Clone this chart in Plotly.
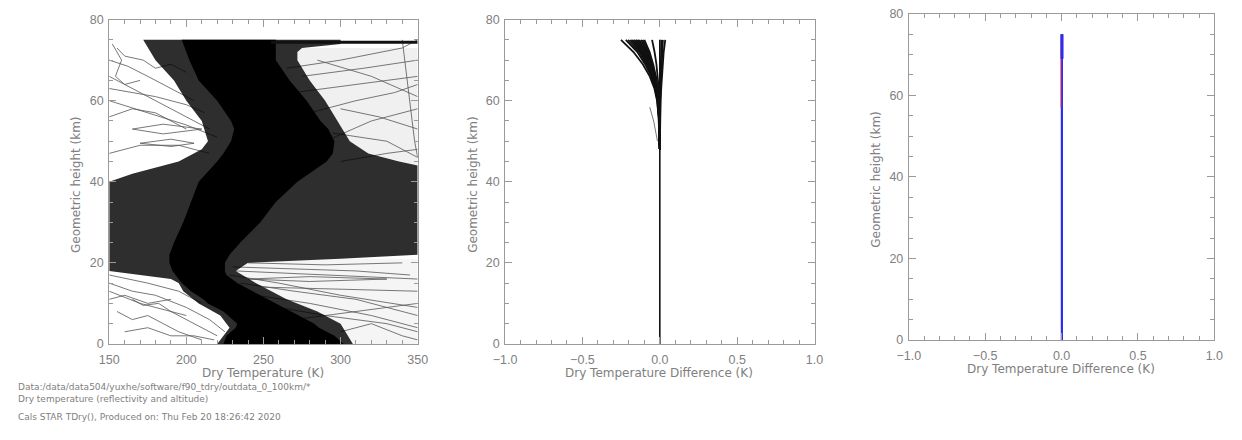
import plotly.graph_objects as go

W, H = 1242, 440

# ---------------- Panel 1 data (Dry temperature profiles) ----------------
# dense core envelope (solid black)
core_h = [0, 2, 4, 5, 7, 8, 10, 11, 13, 14, 15, 17, 18, 20, 22, 25, 30, 35, 40, 45, 47, 50, 53, 55, 60, 65, 70, 75]
core_left = [224, 226, 232, 233, 227, 224, 214, 211, 203, 200, 197, 193, 191, 189, 189, 192, 198, 203, 208, 220, 224, 229, 231, 229, 220, 208, 202, 197]
core_right = [302, 296, 286, 283, 273, 268, 257, 252, 242, 238, 233, 226, 225, 225, 228, 235, 248, 258, 272, 291, 295, 296, 292, 287, 278, 267, 258, 258]

# dense fringe of many overlapping profiles
fringe_left_h = [0, 4, 7, 10, 13, 15, 16, 17, 18, 40, 42, 45, 48, 50, 55, 60, 65, 70, 75]
fringe_left_t = [220, 228, 222, 208, 198, 195, 190, 170, 150, 150, 165, 195, 210, 214, 210, 200, 192, 180, 172]
fringe_right_h = [75, 74, 73, 72, 70, 65, 60, 55, 50, 47, 45, 44, 22, 21, 20, 18, 15, 11, 8, 5, 2, 0]
fringe_right_t = [300, 300, 275, 272, 272, 280, 290, 298, 306, 318, 338, 350, 350, 300, 240, 232, 245, 265, 285, 300, 305, 308]

# medium-density regions
upper_mid_h = [44, 47, 50, 55, 60, 65, 70, 72, 73, 73]
upper_mid_t = [350, 318, 306, 298, 290, 280, 272, 272, 275, 350]
lower_mid_h = [21, 20, 18, 15, 11, 8, 5, 2, 0, 0, 21]
lower_mid_t = [300, 240, 232, 245, 265, 285, 300, 305, 308, 350, 350]

top_band_t = [255, 350]
top_band_h = [74.4, 74.4]

# individual outlying profiles (temperature K, height km)
outliers = [
    ([150, 170, 195, 215], [66, 62, 57, 53]),
    ([150, 175, 200, 220], [60, 57, 54, 51]),
    ([150, 165, 180, 200], [56, 58, 57, 53]),
    ([155, 160, 172, 180, 190, 200], [73, 71, 70, 68, 69, 67]),
    ([165, 185, 210, 185, 165], [53, 54.2, 53, 51.8, 53]),
    ([150, 170, 195, 215], [47, 49, 49, 47]),
    ([152, 158, 154, 160, 170], [74, 70, 66, 64, 65]),
    ([150, 162, 175, 190, 205], [70, 68.5, 66, 63, 60]),
    ([150, 180, 200, 212], [63, 61, 59, 57]),
    ([170, 190, 205, 190, 170], [49.5, 50.5, 49.5, 48.7, 49.5]),
    ([150, 165, 180, 200, 215, 225], [15, 13, 12, 9, 6, 3]),
    ([150, 170, 190, 205, 220], [13, 10, 8, 5, 2]),
    ([155, 165, 175, 185, 195, 210], [8, 6, 7, 5, 3, 1]),
    ([150, 175, 195, 210], [17, 15, 13, 10]),
    ([160, 175, 190, 205, 218], [3, 4, 2, 2, 1]),
    ([165, 172, 182, 190, 200], [11, 9.5, 10, 8, 7]),
    ([150, 160, 175, 190], [11, 12, 10, 11]),
    ([228, 260, 300, 350], [17, 15, 12, 9]),
    ([235, 270, 310, 350], [15, 13, 11, 7]),
    ([245, 280, 320, 350], [12, 10, 7, 4]),
    ([230, 270, 310, 345], [19, 18.5, 18, 17]),
    ([240, 290, 340], [20, 19.5, 20]),
    ([300, 320, 340, 350], [3, 5, 2, 1]),
    ([260, 290, 330, 350], [9, 7, 5, 3]),
    ([240, 280, 330, 280, 240], [16, 16.6, 16, 15.4, 16]),
    ([250, 300, 350], [14, 13.5, 13]),
    ([232, 280, 330, 350], [18, 17.2, 16.5, 16]),
    ([270, 310, 350], [6, 8, 10]),
    ([265, 300, 340, 350], [68, 70, 73, 75]),
    ([270, 310, 350], [62, 64, 66]),
    ([290, 320, 350], [50, 55, 58]),
    ([280, 310, 335, 350], [57, 60, 62, 64]),
    ([300, 330, 350], [45, 47, 48]),
    ([285, 320, 350], [70, 66, 61]),
    ([295, 330, 350], [52, 50, 46]),
    ([340, 345, 348, 350], [75, 60, 50, 46]),
    ([275, 315, 350], [66, 68, 70]),
    ([300, 325, 350], [58, 56, 53]),
]

# ---------------- Panel 2 data (difference profiles) ----------------
diff_h = [48, 52, 56, 60, 63, 66, 69, 72, 75]
diff_curves = [
    [0, -0.002, -0.008, -0.018, -0.035, -0.065, -0.11, -0.17, -0.251],
    [0, -0.002, -0.007, -0.016, -0.03, -0.056, -0.095, -0.145, -0.22],
    [0, -0.002, -0.006, -0.014, -0.027, -0.05, -0.086, -0.133, -0.205],
    [0, -0.002, -0.006, -0.013, -0.025, -0.047, -0.08, -0.124, -0.19],
    [0, -0.001, -0.005, -0.012, -0.024, -0.044, -0.075, -0.116, -0.178],
    [0, -0.001, -0.005, -0.011, -0.022, -0.041, -0.07, -0.108, -0.166],
    [0, -0.001, -0.005, -0.010, -0.021, -0.038, -0.066, -0.101, -0.155],
    [0, -0.001, -0.004, -0.010, -0.019, -0.036, -0.061, -0.094, -0.144],
    [0, -0.001, -0.004, -0.009, -0.018, -0.033, -0.057, -0.087, -0.133],
    [0, -0.001, -0.004, -0.008, -0.016, -0.030, -0.052, -0.080, -0.122],
    [0, -0.001, -0.003, -0.008, -0.015, -0.028, -0.048, -0.073, -0.111],
    [0, -0.001, -0.003, -0.007, -0.014, -0.025, -0.043, -0.066, -0.100],
    [0, 0, -0.002, -0.004, -0.007, -0.013, -0.022, -0.034, -0.05],
    [0, 0, 0.001, 0.002, 0.003, 0.005, 0.006, 0.008, 0.01],
    [0, 0, 0.001, 0.003, 0.005, 0.008, 0.011, 0.015, 0.02],
    [0, 0.001, 0.002, 0.005, 0.009, 0.014, 0.019, 0.025, 0.035],
]
diff_base_x = [0, 0]
diff_base_h = [0, 75]
diff_short_x = [-0.065, -0.04, -0.025, -0.015]
diff_short_h = [58.4, 55, 52, 50]

# ---------------- Panel 3 data ----------------
blue_x = [0.002, 0.002]
blue_h = [0, 75]
red_x = [-0.003, -0.003]
red_h = [57, 75]
blue_top_x = [0.003, 0.003]
blue_top_h = [69, 75]

footer_lines = [
    "Data:/data/data504/yuxhe/software/f90_tdry/outdata_0_100km/*",
    "Dry temperature (reflectivity and altitude)",
    "Cals STAR TDry(), Produced on: Thu Feb 20 18:26:42 2020",
]

fig = go.Figure()

def poly(xs, ys, color, xa, ya):
    fig.add_trace(go.Scatter(x=xs, y=ys, fill="toself", fillcolor=color, mode="lines",
                             line=dict(width=0), hoverinfo="skip", showlegend=False,
                             xaxis=xa, yaxis=ya))

# panel 1
poly(upper_mid_t, upper_mid_h, "rgba(0,0,0,0.06)", "x", "y")
poly(lower_mid_t, lower_mid_h, "rgba(0,0,0,0.04)", "x", "y")
for t, h in outliers:
    fig.add_trace(go.Scatter(x=t, y=h, mode="lines", line=dict(color="#555", width=0.8),
                             hoverinfo="skip", showlegend=False, xaxis="x", yaxis="y"))
poly(fringe_left_t + fringe_right_t, fringe_left_h + fringe_right_h, "rgba(0,0,0,0.82)", "x", "y")
poly(core_left + core_right[::-1], core_h + core_h[::-1], "#000", "x", "y")
fig.add_trace(go.Scatter(x=top_band_t, y=top_band_h, mode="lines", line=dict(color="#111", width=3),
                         hoverinfo="skip", showlegend=False, xaxis="x", yaxis="y"))

# panel 2
fig.add_trace(go.Scatter(x=diff_base_x, y=diff_base_h, mode="lines", line=dict(color="#000", width=1.5),
                         hoverinfo="skip", showlegend=False, xaxis="x2", yaxis="y2"))
for c in diff_curves:
    fig.add_trace(go.Scatter(x=c, y=diff_h, mode="lines", line=dict(color="#111", width=1.8),
                             hoverinfo="skip", showlegend=False, xaxis="x2", yaxis="y2"))
fig.add_trace(go.Scatter(x=diff_short_x, y=diff_short_h, mode="lines", line=dict(color="#555", width=0.8),
                         hoverinfo="skip", showlegend=False, xaxis="x2", yaxis="y2"))

# panel 3
fig.add_trace(go.Scatter(x=blue_x, y=blue_h, mode="lines", line=dict(color="#2a2af0", width=2.2),
                         hoverinfo="skip", showlegend=False, xaxis="x3", yaxis="y3"))
fig.add_trace(go.Scatter(x=red_x, y=red_h, mode="lines", line=dict(color="rgba(225,40,90,0.6)", width=1.6),
                         hoverinfo="skip", showlegend=False, xaxis="x3", yaxis="y3"))
fig.add_trace(go.Scatter(x=blue_top_x, y=blue_top_h, mode="lines", line=dict(color="#2a2af0", width=3),
                         hoverinfo="skip", showlegend=False, xaxis="x3", yaxis="y3"))

FONT = "Liberation Sans"
TFONT = "DejaVu Sans"
AX = "#9a9a9a"
TXT = "#808080"

def px_x(p):
    return p / W

def px_y(p):
    return 1 - p / H

def xaxis(dom, rng, dtick, mdtick, anchor, fmt=None):
    d = dict(domain=dom, range=rng, dtick=dtick, tick0=rng[0], anchor=anchor,
             showline=True, linecolor=AX, linewidth=1, mirror="ticks",
             ticks="inside", ticklen=7, tickwidth=1, tickcolor=AX,
             minor=dict(dtick=mdtick, ticks="inside", ticklen=4, tickcolor=AX, tickwidth=1),
             showgrid=False, zeroline=False, ticklabelstandoff=4,
             tickfont=dict(family=FONT, size=12.5, color=TXT))
    if fmt:
        d["tickformat"] = fmt
    return d

def yaxis(dom, anchor):
    return dict(domain=dom, range=[0, 80], dtick=20, tick0=0, anchor=anchor,
                showline=True, linecolor=AX, linewidth=1, mirror="ticks",
                ticks="inside", ticklen=7, tickwidth=1, tickcolor=AX,
                minor=dict(dtick=5, ticks="inside", ticklen=4, tickcolor=AX, tickwidth=1),
                showgrid=False, zeroline=False, ticklabelstandoff=2,
                tickfont=dict(family=FONT, size=12.5, color=TXT))

y12 = [px_y(348), px_y(13)]
y3 = [px_y(344), px_y(7)]

fig.update_layout(
    width=W, height=H, margin=dict(l=0, r=0, t=0, b=0),
    paper_bgcolor="white", plot_bgcolor="white",
    xaxis=xaxis([px_x(99), px_x(413)], [150, 350], 50, 10, "y"),
    yaxis=yaxis(y12, "x"),
    xaxis2=xaxis([px_x(502), px_x(817)], [-1, 1], 0.5, 0.1, "y2", ".1f"),
    yaxis2=yaxis(y12, "x2"),
    xaxis3=xaxis([px_x(913), px_x(1224)], [-1, 1], 0.5, 0.1, "y3", ".1f"),
    yaxis3=yaxis(y3, "x3"),
)

ann = []
def label(text, x, y, size=13, angle=0, xanchor="center", family=TFONT):
    ann.append(dict(text=text, x=px_x(x), y=px_y(y), xref="paper", yref="paper",
                    showarrow=False, textangle=angle, xanchor=xanchor, yanchor="middle",
                    font=dict(family=family, size=size, color=TXT)))

label("Dry Temperature (K)", 256, 378, 12)
label("Dry Temperature Difference (K)", 659, 378, 12)
label("Dry Temperature Difference (K)", 1068, 374, 12)
label("Geometric height (km)", 65, 183, 12, -90)
label("Geometric height (km)", 469, 183, 12, -90)
label("Geometric height (km)", 880, 178, 12, -90)
for txt, yy in zip(footer_lines, [393, 405, 423]):
    label(txt, 4, yy, 9, 0, "left")
fig.update_layout(annotations=ann)

fig.write_html("out.html")
